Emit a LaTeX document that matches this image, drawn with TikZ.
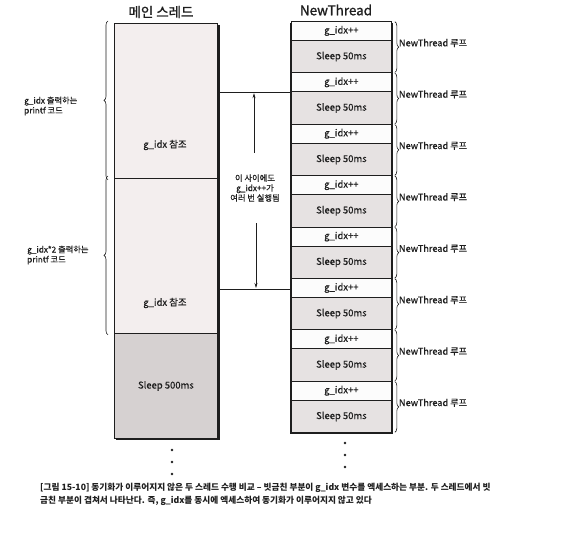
\documentclass[tikz,border=0pt]{standalone}
\usepackage{fontspec}
\setmainfont{Noto Sans CJK KR}
\newfontfamily\medfont{Noto Sans CJK KR}[FakeBold=0.5]
\newfontfamily\ttlfont{Noto Sans CJK KR}[FakeBold=1.2]
\usetikzlibrary{decorations.pathreplacing,arrows.meta}
\definecolor{inkc}{HTML}{1E1E1E}
\definecolor{refc}{HTML}{F3EEEE}
\definecolor{slpbig}{HTML}{D6D1D1}
\definecolor{slpc}{HTML}{E6E2E2}
\definecolor{incc}{HTML}{FCFCFC}
\tikzset{
  colbox/.style={draw=inkc, line width=0.8bp, inner sep=0pt, anchor=north west},
  boxtxt/.style={text=inkc, font=\medfont\fontsize{9.5}{11}\selectfont, inner sep=0pt},
  titletxt/.style={text=inkc, font=\ttlfont\fontsize{13.5}{15}\selectfont, inner sep=0pt},
  smalltxt/.style={text=inkc, font=\medfont\fontsize{8.3}{10}\selectfont, inner sep=0pt, align=left},
  looptxt/.style={text=inkc, font=\medfont\fontsize{9.2}{11}\selectfont, inner sep=0pt, anchor=west},
  captxt/.style={text=inkc, font=\bfseries\fontsize{8.7}{10}\selectfont, inner sep=0pt, anchor=west},
  bracel/.style={draw=inkc, line width=0.6bp, decorate, decoration={brace, amplitude=4bp}},
  thinline/.style={draw=inkc, line width=0.7bp},
  arr/.style={draw=inkc, line width=0.6bp, -{Stealth[length=5bp,width=3bp]}},
  dotc/.style={circle, fill=inkc, inner sep=0pt, minimum size=2.6bp},
}
\begin{document}
\begin{tikzpicture}[x=1bp,y=-1bp]
\useasboundingbox (0,0) rectangle (567,536);
\fill[white] (0,0) rectangle (567,536);
% titles
\node[titletxt] (tmain) at (161,12) {메인 스레드};
\node[titletxt] (tnew) at (336,10) {NewThread};
% shadows
\fill[inkc] (116,25) rectangle (219.5,440);
\fill[inkc] (290,23) rectangle (392.5,434);
% main column
\node[colbox, fill=refc, minimum width=103bp, minimum height=155bp] (m1) at (114,23) {};
\node[colbox, fill=refc, minimum width=103bp, minimum height=155bp] (m2) at (114,178) {};
\node[colbox, fill=slpbig, minimum width=103bp, minimum height=105bp] (m3) at (114,333) {};
\node[boxtxt] (m1t) at (165,145) {g\_idx 참조};
\node[boxtxt] (m2t) at (165,303) {g\_idx 참조};
\node[boxtxt] (m3t) at (m3.center) {Sleep 500ms};
% NewThread column
\foreach \i in {1,...,8}{
  \pgfmathsetmacro{\gy}{21+(\i-1)*51.4}
  \pgfmathsetmacro{\sy}{\gy+19}
  \node[colbox, fill=incc, minimum width=100bp, minimum height=19bp] (n\i g) at (291,\gy) {};
  \node[boxtxt] (n\i gt) at (n\i g.center) {g\_idx++};
  \node[colbox, fill=slpc, minimum width=100bp, minimum height=32.4bp] (n\i s) at (291,\sy) {};
  \node[boxtxt] (n\i st) at (n\i s.center) {Sleep 50ms};
  \draw[bracel] ([xshift=3bp,yshift=-0.7bp]n\i g.north east) -- ([xshift=3bp,yshift=0.7bp]n\i s.south east) coordinate[pos=0.5] (br\i);
  \node[looptxt] (l\i) at ([xshift=7bp]n\i g.north east |- 0,{\gy+22}) {NewThread 루프};
}
% horizontal connectors
\coordinate (ha) at (m1.east |- n2g.south);
\draw[thinline] (ha) -- (n2g.south west);
\coordinate (hb) at (217,289);
\coordinate (hbe) at (hb -| n6g.west);
\draw[thinline] (hb) -- (hbe);
% middle text and arrows
\node[smalltxt, align=center] (mid) at (255,188) {이 사이에도\\g\_idx++가\\여러 번 실행됨};
\coordinate (a1s) at (254,153);
\coordinate (a1e) at (a1s |- ha);
\draw[arr] (a1s) -- ([yshift=-1bp]a1e);
\coordinate (a2s) at (256,223);
\coordinate (a2e) at (a2s |- hb);
\draw[arr] (a2s) -- ([yshift=1bp]a2e);
% left braces
\draw[bracel] ([xshift=-6bp,yshift=-1bp]m1.south west) -- ([xshift=-6bp,yshift=2bp]m1.north west);
\draw[bracel] ([xshift=-6bp,yshift=-1bp]m2.south west) -- ([xshift=-6bp,yshift=2bp]m2.north west);
\node[smalltxt, anchor=west] (lab1) at (24,106) {g\_idx 출력하는\\printf 코드};
\node[smalltxt, anchor=west] (lab2) at (27,255) {g\_idx*2 출력하는\\printf 코드};
% dots
\node[dotc] (d1) at (172,450) {};
\node[dotc] (d2) at (172,462) {};
\node[dotc] (d3) at (172,474) {};
\node[dotc] (e1) at (345,443) {};
\node[dotc] (e2) at (345,455) {};
\node[dotc] (e3) at (345,467) {};
% caption
\node[captxt] (cap1) at (40,488) {[그림 15-10] 동기화가 이루어지지 않은 두 스레드 수행 비교 – 빗금친 부분이 g\_idx 변수를 엑세스하는 부분. 두 스레드에서 빗};
\node[captxt] (cap2) at (40,501) {금친 부분이 겹쳐서 나타난다. 즉, g\_idx를 동시에 엑세스하여 동기화가 이루어지지 않고 있다};
\end{tikzpicture}
\end{document}
